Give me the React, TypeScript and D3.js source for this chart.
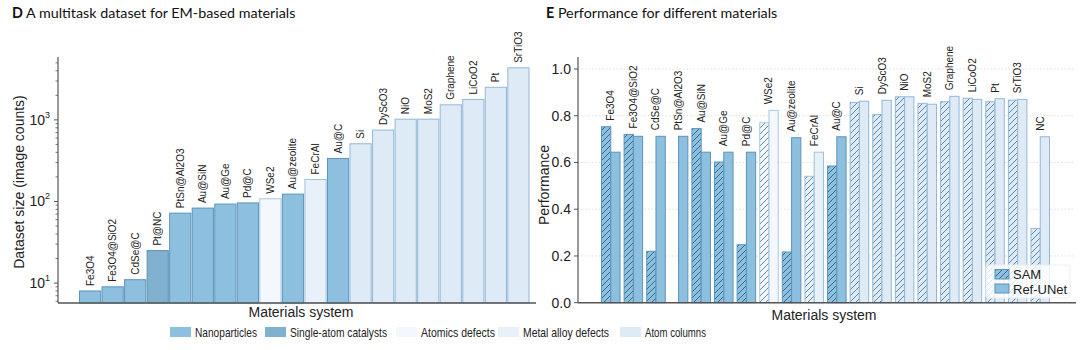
import React from "react";
import * as d3 from "d3";

// ---- panel D data ----
const materialsD = [
  "Fe3O4", "Fe3O4@SiO2", "CdSe@C", "Pt@NC", "PtSn@Al2O3", "Au@SiN", "Au@Ge", "Pd@C",
  "WSe2", "Au@zeolite", "FeCrAl", "Au@C", "Si", "DyScO3", "NiO", "MoS2",
  "Graphene", "LiCoO2", "Pt", "SrTiO3",
];
const countsD = [8, 9, 11, 25, 72, 83, 93, 96, 108, 123, 186, 337, 510, 750, 1020, 1020, 1530, 1780, 2510, 4350];
const typeD = [
  "Nanoparticles", "Nanoparticles", "Nanoparticles", "Single-atom catalysts", "Nanoparticles",
  "Nanoparticles", "Nanoparticles", "Nanoparticles", "Atomics defects", "Nanoparticles",
  "Metal alloy defects", "Nanoparticles", "Atom columns", "Atom columns", "Atom columns",
  "Atom columns", "Atom columns", "Atom columns", "Atom columns", "Atom columns",
];
const logTicks = [10, 100, 1000];

// ---- panel E data ----
const materialsE = [
  "Fe3O4", "Fe3O4@SiO2", "CdSe@C", "PtSn@Al2O3", "Au@SiN", "Au@Ge", "Pd@C", "WSe2",
  "Au@zeolite", "FeCrAl", "Au@C", "Si", "DyScO3", "NiO", "MoS2", "Graphene",
  "LiCoO2", "Pt", "SrTiO3", "NC",
];
const samE = [0.753, 0.72, 0.22, null, 0.745, 0.602, 0.248, 0.77, 0.217, 0.541, 0.585, 0.857, 0.805, 0.881, 0.853, 0.86, 0.875, 0.86, 0.867, 0.318];
const refE = [0.644, 0.712, 0.712, 0.712, 0.644, 0.644, 0.644, 0.823, 0.706, 0.644, 0.71, 0.862, 0.866, 0.881, 0.849, 0.883, 0.87, 0.873, 0.87, 0.71];
const typeE = [
  "Nanoparticles", "Nanoparticles", "Nanoparticles", "Nanoparticles", "Nanoparticles",
  "Nanoparticles", "Nanoparticles", "Atomics defects", "Nanoparticles", "Metal alloy defects",
  "Nanoparticles", "Atom columns", "Atom columns", "Atom columns", "Atom columns",
  "Atom columns", "Atom columns", "Atom columns", "Atom columns", "Atom columns",
];
const methods = ["SAM", "Ref-UNet"];
const perfTicks = [0, 0.2, 0.4, 0.6, 0.8, 1.0];

const categories = ["Nanoparticles", "Single-atom catalysts", "Atomics defects", "Metal alloy defects", "Atom columns"];
const fills = ["#8cc0de", "#80b1cf", "#f4f8fc", "#e8f1f9", "#deeaf5"];
const strokes = ["#5b94bb", "#5a8fb3", "#a8c8e0", "#9dbfda", "#93b8d6"];
const hatchColors = ["#2d5f86", "#2d5f86", "#4a7ea8", "#4a7ea8", "#4a7ea8"];
// legend text is set in a condensed face in the source figure
const legendWidths = [62, 97, 74, 86, 61];

const fillScale = d3.scaleOrdinal<string, string>().domain(categories).range(fills);
const strokeScale = d3.scaleOrdinal<string, string>().domain(categories).range(strokes);
const hatchScale = d3.scaleOrdinal<string, string>().domain(categories).range(hatchColors);

const SANS = "Liberation Sans, Arial, sans-serif";
const TITLE = "Lato, Open Sans, sans-serif";
const AXIS = "#555";

export default function App() {
  // panel D scales
  const xD = d3.scaleBand<string>().domain(materialsD).range([79.5, 529]).paddingInner(0.06);
  const yD = d3.scaleLog().domain([5.7, 5900]).range([303, 57]);
  const minorTicks = yD.ticks().filter((t) => !logTicks.includes(t));

  // panel E scales
  const xE = d3.scaleBand<string>().domain(materialsE).range([601.5, 1049.5]).paddingInner(0.18);
  const xM = d3.scaleBand<string>().domain(methods).range([0, xE.bandwidth()]);
  const yE = d3.scaleLinear().domain([0, 1.05]).range([302.7, 57.3]);

  return (
    <svg width={1080} height={350} style={{ position: "absolute", left: 0, top: 0, background: "#fff" }}>
      <defs>
        {categories.map((c, i) => (
          <pattern key={c} id={`hatch${i}`} width={6} height={6} patternUnits="userSpaceOnUse">
            <path d="M-1,1 L1,-1 M0,6 L6,0 M5,7 L7,5" stroke={hatchScale(c)} strokeWidth={0.9} />
          </pattern>
        ))}
      </defs>

      {/* titles */}
      <text x={12} y={18} fontFamily={TITLE} fontSize={14.3} fill="#111">
        <tspan fontWeight="bold">D</tspan> A multitask dataset for EM-based materials
      </text>
      <text x={546} y={18} fontFamily={TITLE} fontSize={14.3} fill="#111">
        <tspan fontWeight="bold">E</tspan> Performance for different materials
      </text>

      {/* ---- panel D ---- */}
      <g>
        {materialsD.map((m, i) => (
          <rect
            key={m}
            x={xD(m)}
            y={yD(countsD[i])}
            width={xD.bandwidth()}
            height={303 - yD(countsD[i])}
            fill={fillScale(typeD[i])}
            stroke={strokeScale(typeD[i])}
            strokeWidth={1}
          />
        ))}
        {materialsD.map((m, i) => {
          const cx = (xD(m) ?? 0) + xD.bandwidth() / 2;
          const cy = yD(countsD[i]) - 5;
          return (
            <text
              key={m}
              transform={`translate(${cx},${cy}) rotate(-90)`}
              dy="0.35em"
              fontFamily={SANS}
              fontSize={10}
              fill="#222"
            >
              {m}
            </text>
          );
        })}
        <line x1={58} x2={58} y1={57} y2={303} stroke={AXIS} strokeWidth={1.2} />
        <line x1={58} x2={536} y1={303} y2={303} stroke={AXIS} strokeWidth={1.5} />
        {minorTicks.map((t) => (
          <line key={t} x1={55.5} x2={58} y1={yD(t)} y2={yD(t)} stroke={AXIS} strokeWidth={0.8} />
        ))}
        {logTicks.map((t) => (
          <g key={t}>
            <line x1={54} x2={58} y1={yD(t)} y2={yD(t)} stroke={AXIS} strokeWidth={1} />
            <text x={50} y={yD(t) + 5} textAnchor="end" fontFamily={SANS} fontSize={14} fill="#222">
              10<tspan dy={-7} fontSize={9}>{Math.round(Math.log10(t))}</tspan>
            </text>
          </g>
        ))}
        <text
          transform="translate(19,182) rotate(-90)"
          textAnchor="middle"
          dy="0.35em"
          fontFamily={SANS}
          fontSize={14}
          fill="#222"
        >
          Dataset size (image counts)
        </text>
        <text x={301} y={317} textAnchor="middle" fontFamily={SANS} fontSize={14} fill="#222">
          Materials system
        </text>
      </g>

      {/* ---- panel E ---- */}
      <g>
        {perfTicks.filter((t) => t > 0).map((t) => (
          <line key={t} x1={578} x2={1075} y1={yE(t)} y2={yE(t)} stroke="#d4d4d4" strokeWidth={0.8} strokeDasharray="1.5,2" />
        ))}
        {materialsE.map((m, i) => {
          const gx = xE(m) ?? 0;
          const bw = xM.bandwidth();
          const c = typeE[i];
          const sam = samE[i];
          return (
            <g key={m}>
              {sam !== null && (
                <g>
                  <rect x={gx + (xM("SAM") ?? 0)} y={yE(sam)} width={bw} height={302.7 - yE(sam)} fill={fillScale(c)} />
                  <rect
                    x={gx + (xM("SAM") ?? 0)}
                    y={yE(sam)}
                    width={bw}
                    height={302.7 - yE(sam)}
                    fill={`url(#hatch${categories.indexOf(c)})`}
                    stroke={strokeScale(c)}
                    strokeWidth={1}
                  />
                </g>
              )}
              <rect
                x={gx + (xM("Ref-UNet") ?? 0)}
                y={yE(refE[i])}
                width={bw}
                height={302.7 - yE(refE[i])}
                fill={fillScale(c)}
                stroke={strokeScale(c)}
                strokeWidth={1}
              />
            </g>
          );
        })}
        {materialsE.map((m, i) => {
          const cx = (xE(m) ?? 0) + xE.bandwidth() / 2;
          const top = Math.max(samE[i] ?? 0, refE[i]);
          const cy = yE(top) - 6;
          return (
            <text
              key={m}
              transform={`translate(${cx},${cy}) rotate(-90)`}
              dy="0.35em"
              fontFamily={SANS}
              fontSize={10}
              fill="#222"
            >
              {m}
            </text>
          );
        })}
        <line x1={578} x2={578} y1={57} y2={302.7} stroke={AXIS} strokeWidth={1.2} />
        <line x1={578} x2={1076} y1={302.7} y2={302.7} stroke={AXIS} strokeWidth={1.5} />
        {perfTicks.map((t) => (
          <g key={t}>
            <line x1={574} x2={578} y1={yE(t)} y2={yE(t)} stroke={AXIS} strokeWidth={1} />
            <text x={571} y={yE(t) + 5} textAnchor="end" fontFamily={SANS} fontSize={14} fill="#222">
              {d3.format(".1f")(t)}
            </text>
          </g>
        ))}
        <text
          transform="translate(544,185) rotate(-90)"
          textAnchor="middle"
          dy="0.35em"
          fontFamily={SANS}
          fontSize={14}
          fill="#222"
        >
          Performance
        </text>
        <text x={824} y={320} textAnchor="middle" fontFamily={SANS} fontSize={14} fill="#222">
          Materials system
        </text>

        {/* method legend */}
        <rect x={986} y={265} width={84} height={33} fill="#fff" fillOpacity={0.8} stroke="#eee" rx={2} />
        <rect x={995} y={269.5} width={14} height={9.5} fill={fillScale("Nanoparticles")} />
        <rect x={995} y={269.5} width={14} height={9.5} fill="url(#hatch0)" stroke={strokeScale("Nanoparticles")} />
        <text x={1013} y={279} fontFamily={SANS} fontSize={13} fill="#222">SAM</text>
        <rect x={995} y={284} width={14} height={9} fill={fillScale("Nanoparticles")} stroke={strokeScale("Nanoparticles")} />
        <text x={1013} y={293.5} fontFamily={SANS} fontSize={13} fill="#222">Ref-UNet</text>
      </g>

      {/* category legend */}
      {(() => {
        const legendX = [170, 265, 396, 498, 620];
        return categories.map((c, i) => (
          <g key={c}>
            <rect x={legendX[i]} y={327} width={21} height={10} fill={fillScale(c)} />
            <text
              x={legendX[i] + 25}
              y={336.5}
              fontFamily={SANS}
              fontSize={13.5}
              fill="#222"
              textLength={legendWidths[i]}
              lengthAdjust="spacingAndGlyphs"
            >
              {c}
            </text>
          </g>
        ));
      })()}
    </svg>
  );
}
